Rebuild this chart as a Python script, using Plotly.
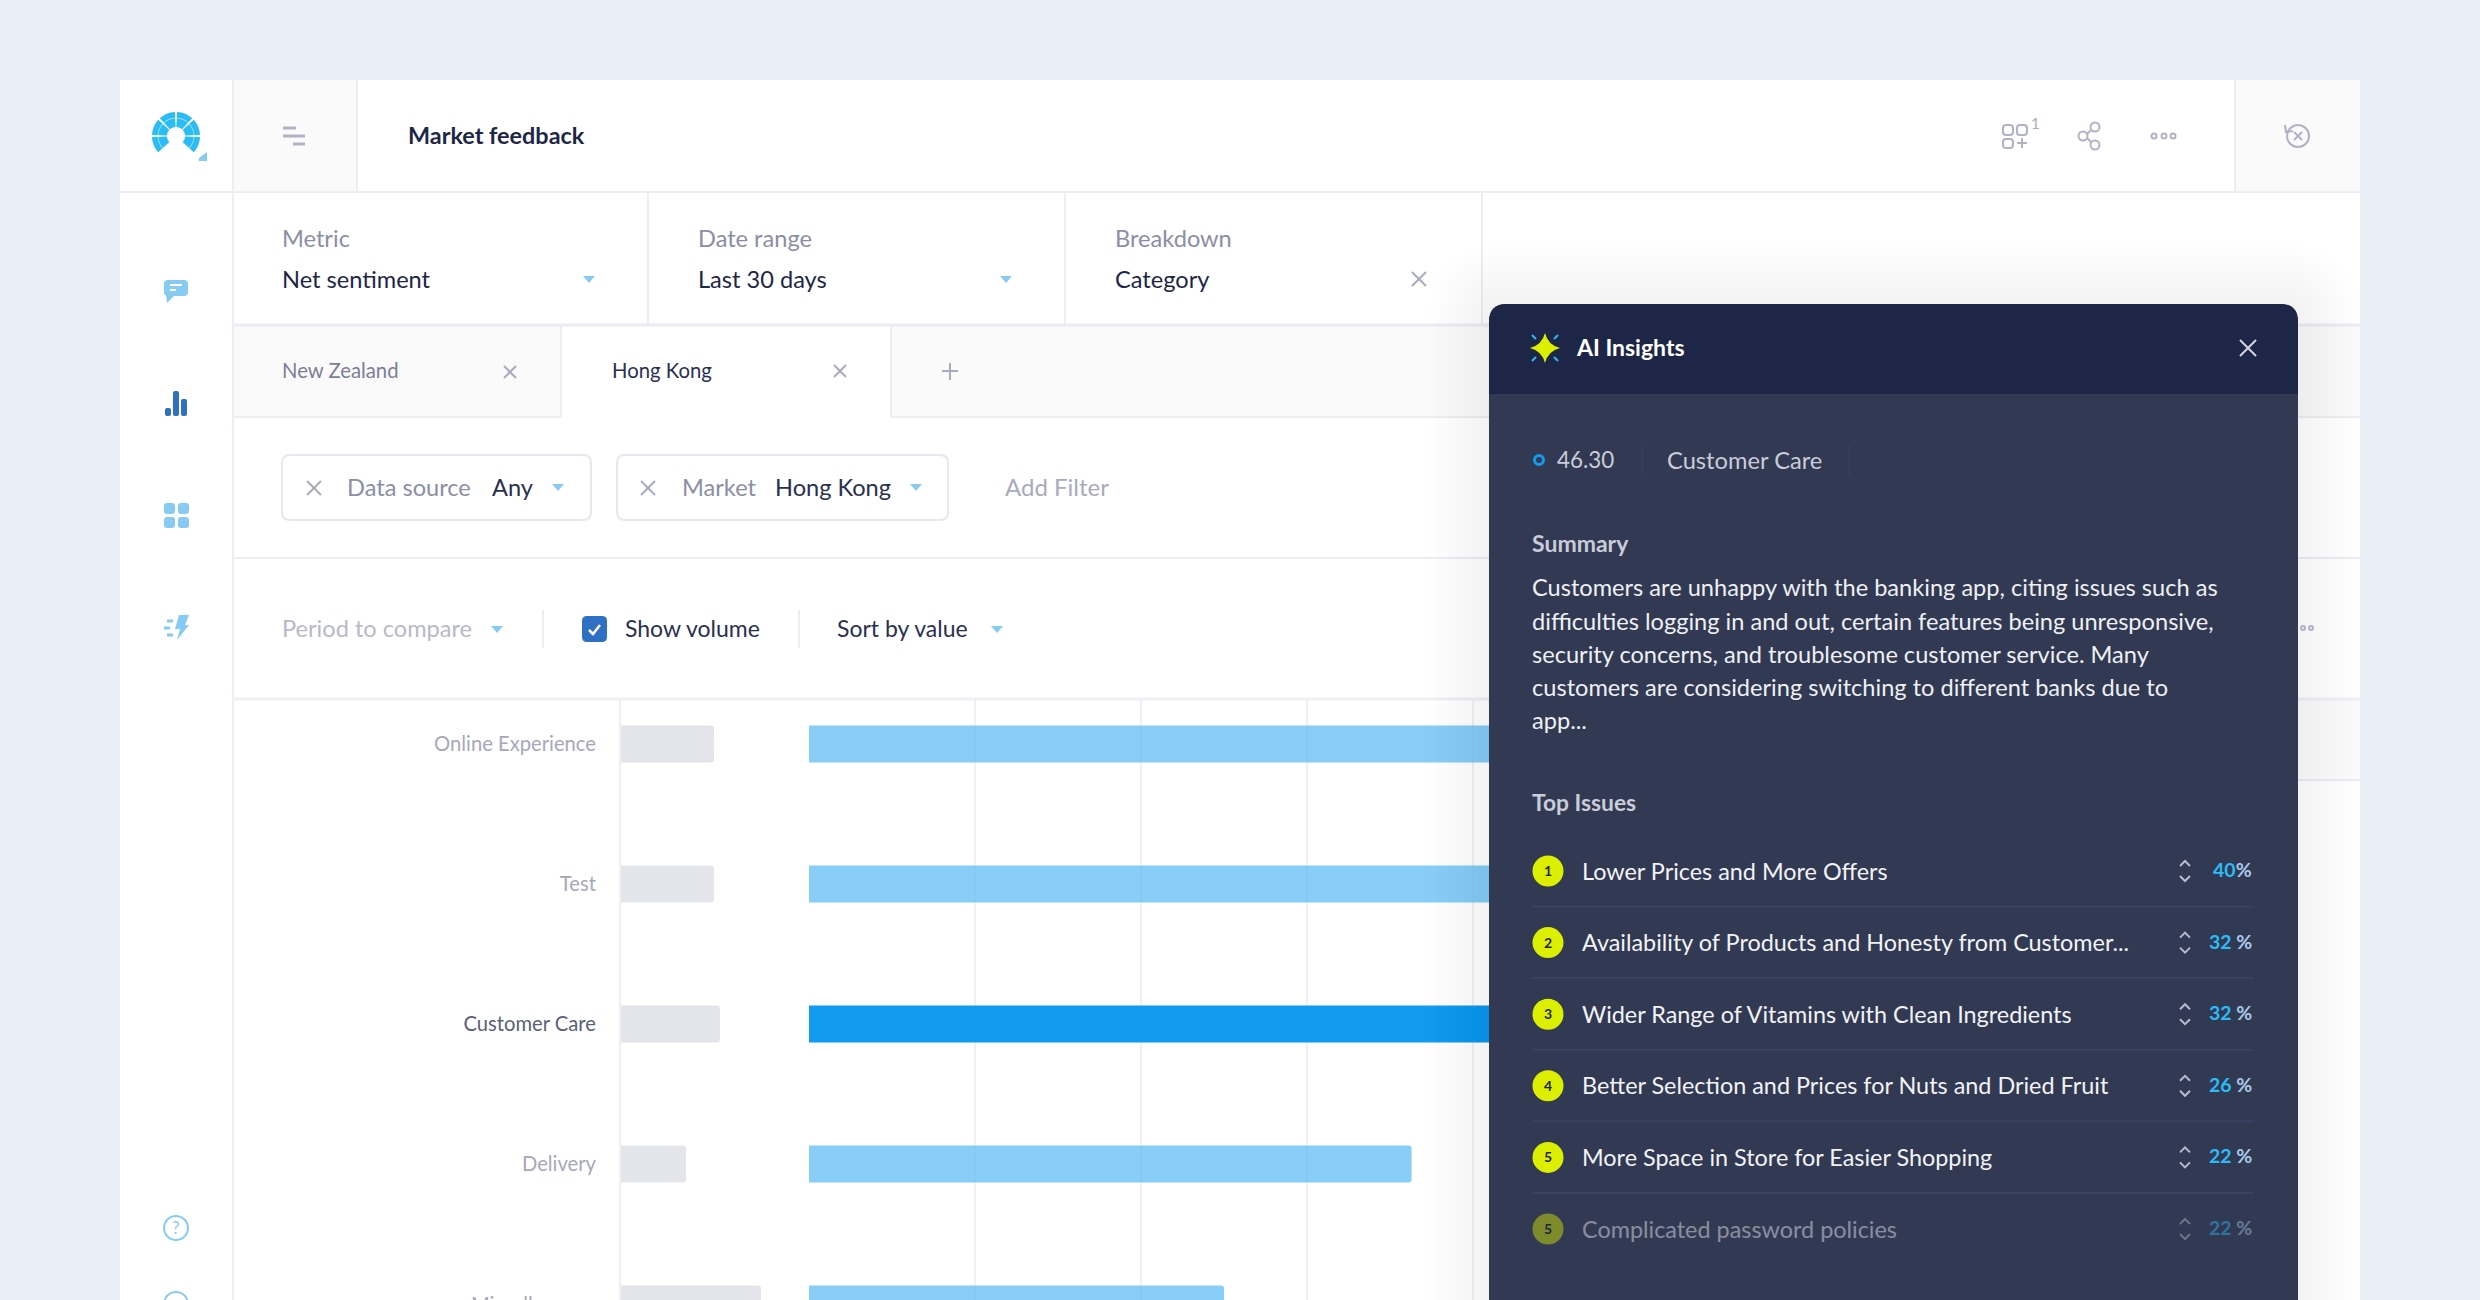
import math

import plotly.graph_objects as go

W = 2480
H = 1300
FONT = "Lato"

# chart data
categories = ["Online Experience", "Test", "Customer Care", "Delivery", "Miscellaneous"]
volume_values = [93, 93, 99, 65, 140]
sentiment_values = [50.0, 48.0, 46.3, 36.3, 25.0]
sentiment_ticks = [0, 10, 20, 30, 40, 50, 60, 70, 80]
highlighted = "Customer Care"

# panel text
summary_lines = [
    "Customers are unhappy with the banking app, citing issues such as",
    "difficulties logging in and out, certain features being unresponsive,",
    "security concerns, and troublesome customer service. Many",
    "customers are considering switching to different banks due to",
    "app...",
]
issue_ranks = ["1", "2", "3", "4", "5", "5"]
issue_names = [
    "Lower Prices and More Offers",
    "Availability of Products and Honesty from Customer...",
    "Wider Range of Vitamins with Clean Ingredients",
    "Better Selection and Prices for Nuts and Dried Fruit",
    "More Space in Store for Easier Shopping",
    "Complicated password policies",
]
issue_shares = [40, 32, 32, 26, 22, 22]

INK = "#1E2647"
MUTED = "#8B8EA5"
FAINT = "#A8ABBD"
LINE = "#EDEEF3"
ICON = "#B0B2C5"
SKY = "#87CBF2"
CYAN = "#2CBCF5"
LIME = "#DDEF00"

shapes = []
annotations = []


def px(x):
    return x / W


def py(y):
    return 1 - y / H


def add_shape(layer="below", **kw):
    shapes.append(dict(xref="paper", yref="paper", layer=layer, **kw))


def rect(x0, y0, x1, y1, fill, layer="below"):
    add_shape(layer=layer, type="rect", x0=px(x0), x1=px(x1), y0=py(y0), y1=py(y1),
              fillcolor=fill, line_width=0)


def hline(x0, x1, y, color=LINE, width=2, layer="below"):
    add_shape(layer=layer, type="line", x0=px(x0), x1=px(x1), y0=py(y), y1=py(y),
              line=dict(color=color, width=width))


def vline(x, y0, y1, color=LINE, width=2, layer="below"):
    add_shape(layer=layer, type="line", x0=px(x), x1=px(x), y0=py(y0), y1=py(y1),
              line=dict(color=color, width=width))


def path(points, close=True):
    d = "M " + " L ".join(f"{px(x):.5f},{py(y):.5f}" for x, y in points)
    return d + (" Z" if close else "")


def rounded(x0, y0, x1, y1, r, square_bottom=False):
    def c(x, y):
        return f"{px(x):.5f},{py(y):.5f}"
    rb = 0 if square_bottom else r
    return (
        f"M {c(x0 + r, y0)} L {c(x1 - r, y0)} Q {c(x1, y0)} {c(x1, y0 + r)} "
        f"L {c(x1, y1 - rb)} Q {c(x1, y1)} {c(x1 - rb, y1)} "
        f"L {c(x0 + rb, y1)} Q {c(x0, y1)} {c(x0, y1 - rb)} "
        f"L {c(x0, y0 + r)} Q {c(x0, y0)} {c(x0 + r, y0)} Z"
    )


def round_box(x0, y0, x1, y1, r, fill="rgba(0,0,0,0)", stroke=None, width=2, layer="below",
              opacity=1, square_bottom=False):
    add_shape(layer=layer, type="path", path=rounded(x0, y0, x1, y1, r, square_bottom),
              fillcolor=fill, opacity=opacity,
              line=dict(color=stroke, width=width) if stroke else dict(width=0))


def circle(cx, cy, r, fill="rgba(0,0,0,0)", stroke=None, width=2, layer="above", opacity=1):
    add_shape(layer=layer, type="circle", x0=px(cx - r), x1=px(cx + r), y0=py(cy - r), y1=py(cy + r),
              fillcolor=fill, opacity=opacity,
              line=dict(color=stroke, width=width) if stroke else dict(width=0))


def stroke(points, color, width=2, layer="above", opacity=1):
    add_shape(layer=layer, type="path", path=path(points, close=False), opacity=opacity,
              line=dict(color=color, width=width))


def text(x, y, s, size=23.6, color=INK, anchor="left", opacity=1, bold=False):
    annotations.append(dict(
        xref="paper", yref="paper", x=px(x), y=py(y - 1.5), text=f"<b>{s}</b>" if bold else s,
        showarrow=False, xanchor=anchor, yanchor="middle", borderpad=0, borderwidth=0,
        opacity=opacity, font=dict(family=FONT, size=size, color=color),
    ))


def caret(x, y, color=SKY):
    add_shape(layer="above", type="path", fillcolor=color, line_width=0,
              path=path([(x - 6, y - 3), (x + 6, y - 3), (x, y + 4)]))


def cross(x, y, r=7, color=FAINT, width=2):
    stroke([(x - r, y - r), (x + r, y + r)], color, width)
    stroke([(x - r, y + r), (x + r, y - r)], color, width)


# page and card
rect(120, 80, 2360, H, "#FFFFFF")
rect(233, 80, 357, 192, "#FAFAFB")
rect(2235, 80, 2360, 192, "#FAFAFB")
rect(233, 325, 561, 417, "#FAFAFB")
rect(891, 325, 2360, 417, "#FAFAFB")
rect(2298, 699, 2360, 780, "#FBFBFC")

hline(120, 2360, 192)
vline(233, 80, H)
vline(357, 80, 192)
vline(2235, 80, 192)
hline(233, 2360, 325, "#E9ECF3", 3)
vline(648, 193, 324)
vline(1065, 193, 324)
vline(1482, 193, 324)
hline(233, 561, 417)
hline(891, 2360, 417)
vline(561, 325, 417)
vline(891, 325, 417)
hline(233, 2360, 558)
hline(233, 2360, 699, "#EFF0F4", 3)
hline(2298, 2360, 780)
vline(543, 610, 648)
vline(799, 610, 648)

# logo
LOGO_X, LOGO_Y = 176, 136
for start in [-135, -90, -45, 0, 45, 90]:
    a0 = math.radians(start + 2.5)
    a1 = math.radians(start + 42.5)
    steps = [a0 + (a1 - a0) * i / 8 for i in range(9)]
    outer = [(LOGO_X + 24 * math.sin(a), LOGO_Y - 24 * math.cos(a)) for a in steps]
    inner = [(LOGO_X + 9 * math.sin(a), LOGO_Y - 9 * math.cos(a)) for a in reversed(steps)]
    add_shape(layer="above", type="path", path=path(outer + inner), fillcolor=CYAN, line_width=0)
circle(LOGO_X, LOGO_Y, 18, stroke="rgba(255,255,255,0.5)", width=1)
add_shape(layer="above", type="path", fillcolor=SKY, line_width=0,
          path=path([(199, 158), (207, 152), (207, 161), (199, 161)]))

# hamburger
stroke([(283, 128), (296, 128)], ICON, 3)
stroke([(283, 136), (305, 136)], ICON, 3)
stroke([(293, 144), (305, 144)], ICON, 3)
text(408, 136, "Market feedback", 23.4, INK, bold=True)

# header icons
round_box(2003, 125, 2013, 135, 3, stroke=ICON, layer="above")
round_box(2017, 125, 2027, 135, 3, stroke=ICON, layer="above")
round_box(2003, 139, 2013, 148, 3, stroke=ICON, layer="above")
stroke([(2017, 143), (2027, 143)], ICON)
stroke([(2022, 138), (2022, 148)], ICON)
text(2035, 124, "1", 15, FAINT, anchor="center")
circle(2083, 136, 4.5, stroke=ICON)
circle(2095, 127, 4.5, stroke=ICON)
circle(2095, 145, 4.5, stroke=ICON)
stroke([(2087, 134), (2091, 130)], ICON)
stroke([(2087, 138), (2091, 142)], ICON)
for dot_x in [2154, 2164, 2173]:
    circle(dot_x, 136, 2.5, stroke=ICON)
circle(2298, 136, 11, stroke=ICON)
cross(2298, 136, 4, ICON)
stroke([(2285, 125), (2286, 132), (2293, 131)], ICON)

# sidebar icons
round_box(164, 280, 188, 296, 4, fill=SKY, layer="above")
add_shape(layer="above", type="path", fillcolor=SKY, line_width=0,
          path=path([(166, 294), (176, 294), (167, 303)]))
stroke([(170, 285), (182, 285)], "#FFFFFF", 2)
stroke([(170, 290), (176, 290)], "#FFFFFF", 2)
round_box(165, 408, 171, 416, 2, fill="#2F6FC4", layer="above")
round_box(173, 391, 179, 416, 2, fill="#2F6FC4", layer="above")
round_box(181, 399, 187, 416, 2, fill="#2F6FC4", layer="above")
for gx in [164, 178]:
    for gy in [503, 517]:
        round_box(gx, gy, gx + 11, gy + 11, 3, fill=SKY, layer="above")
add_shape(layer="above", type="path", fillcolor=SKY, line_width=0,
          path=path([(179, 615), (189, 615), (185, 625), (189, 625), (177, 640), (180, 629), (175, 629)]))
for bolt_y, bolt_x0 in [(621, 167), (628, 164), (635, 167)]:
    stroke([(bolt_x0, bolt_y), (bolt_x0 + 6, bolt_y)], SKY, 3)
circle(176, 1228, 12, stroke=SKY)
text(176, 1229, "?", 17, SKY, anchor="center")
circle(176, 1304, 12, stroke=SKY)

# selectors
for x, label, value in [
    (282, "Metric", "Net sentiment"),
    (698, "Date range", "Last 30 days"),
    (1115, "Breakdown", "Category"),
]:
    text(x, 239, label, 23.6, MUTED)
    text(x, 280, value, 23.6, INK)
caret(589, 279)
caret(1006, 279)
cross(1419, 279)

# tabs
text(282, 372, "New Zealand", 20.3, "#7B7E96")
cross(510, 372, 6)
text(612, 371, "Hong Kong", 20.3, "#2A3050")
cross(840, 371, 6)
stroke([(950, 363), (950, 380)], FAINT)
stroke([(942, 371), (958, 371)], FAINT)

# filter chips
round_box(282, 455, 591, 520, 8, stroke="#E6E8EF")
round_box(617, 455, 948, 520, 8, stroke="#E6E8EF")
cross(314, 488)
text(347, 488, "Data source", 23.6, MUTED)
text(492, 488, "Any", 23.6, "#2A3050")
caret(558, 487)
cross(648, 488)
text(682, 488, "Market", 23.6, MUTED)
text(775, 488, "Hong Kong", 23.6, "#2A3050")
caret(916, 487)
text(1005, 488, "Add Filter", 24, FAINT)

# toolbar
text(282, 629, "Period to compare", 23.6, "#B7B9C8")
caret(497, 629)
round_box(582, 616, 607, 642, 5, fill="#2F6FC4")
stroke([(589, 630), (593, 634), (600, 625)], "#FFFFFF", 2.5)
text(625, 629, "Show volume", 23, "#2A3050")
text(837, 629, "Sort by value", 23, "#2A3050")
caret(997, 629)

# Miscellaneous sits on the cut edge of the page, so its tick cannot be drawn by the axis
text(596, 1305, categories[4], 20.2, "#A6A8BA", anchor="right")

# panel shadow
for i in range(12):
    spread = 5 * (12 - i)
    round_box(1489 - spread, 304 - spread, 2298 + spread, H + 80, 18 + spread,
              fill="rgba(30,38,71,0.004)", layer="above")

# panel
round_box(1489, 304, 2298, H + 40, 18, fill="#313953", layer="above", square_bottom=True)
round_box(1489, 304, 2298, 394, 18, fill="#1E2647", layer="above", square_bottom=True)
add_shape(layer="above", type="path", fillcolor=LIME, line_width=0, path=(
    f"M {px(1545):.5f},{py(333):.5f} Q {px(1548):.5f},{py(345):.5f} {px(1560):.5f},{py(348):.5f} "
    f"Q {px(1548):.5f},{py(351):.5f} {px(1545):.5f},{py(363):.5f} "
    f"Q {px(1542):.5f},{py(351):.5f} {px(1530):.5f},{py(348):.5f} "
    f"Q {px(1542):.5f},{py(345):.5f} {px(1545):.5f},{py(333):.5f} Z"))
for sx, sy in [(-1, -1), (1, -1), (-1, 1), (1, 1)]:
    stroke([(1545 + 9 * sx, 348 + 9 * sy), (1545 + 13 * sx, 348 + 13 * sy)], CYAN, 2)
text(1576, 349, "AI Insights", 23, "#FFFFFF", bold=True)
cross(2248, 348, 8, "#D5D7E0", 2)

circle(1539, 460, 4.5, stroke="#129BEE", width=3)
text(1557, 461, "46.30", 22.4, "#C9CCD9")
vline(1642, 445, 476, "#3B4360", 1, layer="above")
text(1667, 461, "Customer Care", 23.7, "#C9CCD9")
vline(1849, 445, 476, "#3B4360", 1, layer="above")

text(1532, 544, "Summary", 23, "#C9CCD9", bold=True)
for i, line in enumerate(summary_lines):
    text(1532, 589 + i * 33, line, 23.6, "#EEF0F5")
text(1532, 803, "Top Issues", 22.8, "#C9CCD9", bold=True)

for i, (rank, name, share) in enumerate(zip(issue_ranks, issue_names, issue_shares)):
    y = 871 + i * 71.6
    fade = 0.45 if i == 5 else 1
    circle(1548, y, 15.5, fill=LIME, opacity=fade)
    text(1548, y + 1, rank, 14, INK, anchor="center", bold=True)
    text(1582, y + 1, name, 23.4, "#F2F3F7", opacity=fade)
    stroke([(2180, y - 5), (2185, y - 10), (2190, y - 5)], "#B9BCCB", 2, opacity=fade)
    stroke([(2180, y + 5), (2185, y + 10), (2190, y + 5)], "#B9BCCB", 2, opacity=fade)
    gap = "" if i == 0 else " "
    text(2252, y, f'<span style="color:{CYAN}">{share}</span>{gap}%', 19.5, "#A8CBEA",
         anchor="right", opacity=fade, bold=True)
    if i < 5:
        hline(1533, 2254, y + 35.5, "#3A4262", 2, layer="above")

# partly hidden toolbar dots right of the panel
circle(2303, 628, 2, stroke=ICON)
circle(2311, 628, 2, stroke=ICON)

tick_labels = [
    f'<span style="color:#5B5F78">{c}</span>' if c == highlighted else c
    for c in categories
]

fig = go.Figure()
fig.add_trace(go.Bar(
    y=categories, x=volume_values, orientation="h", width=37 / 140,
    marker=dict(color="#E4E5EA", line_width=0), xaxis="x", yaxis="y", hoverinfo="skip",
))
fig.add_trace(go.Bar(
    y=categories, x=sentiment_values, orientation="h", width=37 / 140,
    marker=dict(color=["#129BEE" if c == highlighted else "rgba(106,192,245,0.8)" for c in categories],
                line_width=0),
    xaxis="x2", yaxis="y", hoverinfo="skip",
))

fig.update_layout(
    width=W, height=H,
    margin=dict(l=0, r=0, t=0, b=0),
    paper_bgcolor="#E9EDF5",
    plot_bgcolor="rgba(0,0,0,0)",
    showlegend=False,
    barmode="overlay",
    barcornerradius=3,
    font=dict(family=FONT),
    shapes=shapes,
    annotations=annotations,
    xaxis=dict(domain=[px(621), px(809)], range=[0, 188], anchor="y",
               showgrid=False, zeroline=False, showticklabels=False, ticks=""),
    xaxis2=dict(domain=[px(809), px(2298)], range=[0, (2298 - 809) / 16.6], anchor="y",
                tickmode="array", tickvals=sentiment_ticks, showticklabels=False, ticks="",
                showgrid=True, gridcolor="#EFF0F4", gridwidth=2, zeroline=False),
    yaxis=dict(domain=[0, py(699)], range=[(1300 - 744) / 140, -45 / 140], anchor="x",
               type="category", categoryorder="array", categoryarray=categories,
               tickmode="array", tickvals=categories, ticktext=tick_labels,
               tickfont=dict(family=FONT, size=20.2, color="#A6A8BA"), ticks="",
               ticklabelstandoff=19,
               showgrid=False, zeroline=False, showline=True, linecolor="#EFF0F4", linewidth=2),
)

fig.write_html("out.html", config={"displayModeBar": False},
               post_script="document.body.style.margin='0';document.body.style.overflow='hidden';")
